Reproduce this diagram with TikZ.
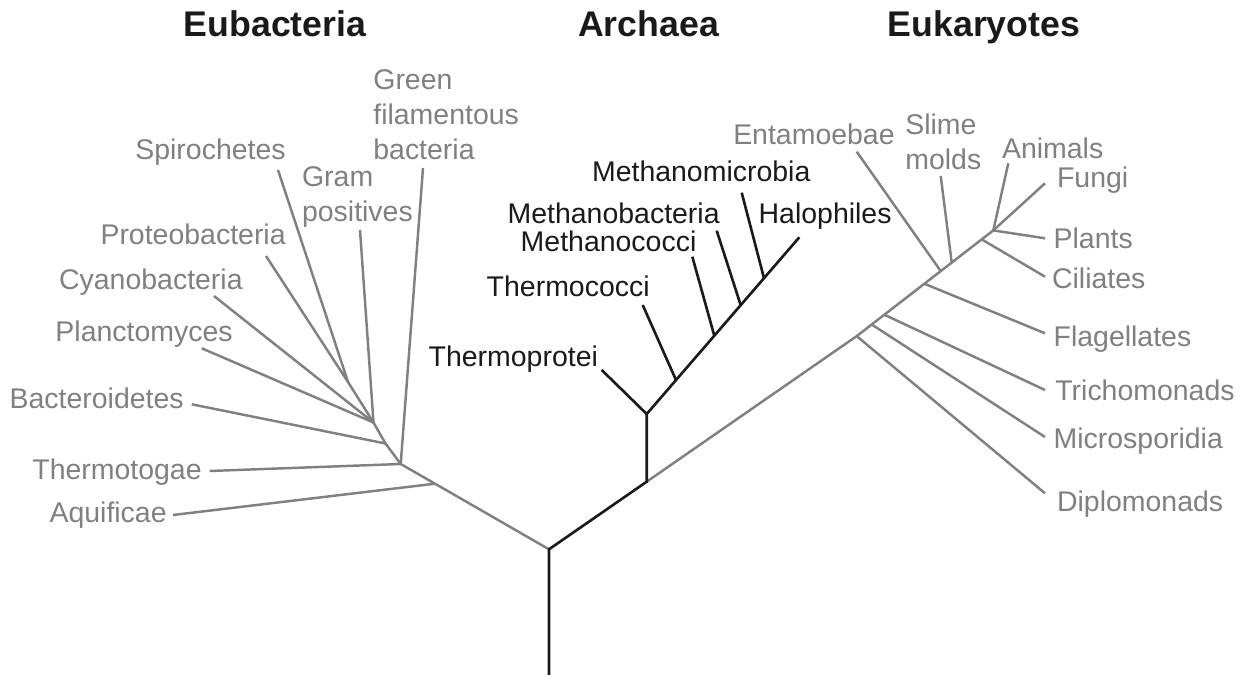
\documentclass[tikz,border=0pt]{standalone}
\usepackage{fontspec}
\setmainfont{Liberation Sans}
\usepackage{xcolor}
\definecolor{treegray}{RGB}{128,128,128}
\definecolor{treeblack}{RGB}{26,26,26}
\tikzstyle{gbr} = [draw=treegray, line width=1.4pt]
\tikzstyle{bbr} = [draw=treeblack, line width=1.5pt]

\begin{document}
\begin{tikzpicture}[x=0.02cm, y=-0.02cm, font=\fontsize{16.2}{19.9}\selectfont]
        \tikzstyle{grp}=[font=\fontsize{20.3}{24}\selectfont\bfseries, text=treeblack, inner sep=0pt, anchor=base]
        \tikzstyle{glab}=[text=treegray, inner sep=0pt]
        \tikzstyle{blab}=[text=treeblack, inner sep=0pt]
        \useasboundingbox (0,0) rectangle (1247,675);

        \node (eub) [grp] at (275,36.7) {Eubacteria};
        \node (arc) [grp] at (648.6,36.7) {Archaea};
        \node (euk) [grp] at (984,36.7) {Eukaryotes};

        \node (gfb) [glab, anchor=base west] at (373,89.3) {\begin{tabular}[t]{@{}l@{}}Green\\filamentous\\bacteria\end{tabular}};
        \node (spi) [glab, anchor=base east] at (286,159.3) {Spirochetes};
        \node (grp) [glab, anchor=base west] at (301.7,186.7) {\begin{tabular}[t]{@{}l@{}}Gram\\positives\end{tabular}};
        \node (pro) [glab, anchor=base east] at (286,245) {Proteobacteria};
        \node (cya) [glab, anchor=base east] at (243,290) {Cyanobacteria};
        \node (pla) [glab, anchor=base east] at (233,341.7) {Planctomyces};
        \node (bac) [glab, anchor=base east] at (184,408) {Bacteroidetes};
        \node (tmt) [glab, anchor=base east] at (202,479) {Thermotogae};
        \node (aqu) [glab, anchor=base east] at (167,522.7) {Aquificae};

        \node (mmi) [blab, anchor=base west] at (591.7,182) {Methanomicrobia};
        \node (mba) [blab, anchor=base east] at (720,224) {Methanobacteria};
        \node (mco) [blab, anchor=base east] at (696.7,251.7) {Methanococci};
        \node (hal) [blab, anchor=base west] at (758.3,224) {Halophiles};
        \node (tco) [blab, anchor=base east] at (650,296.7) {Thermococci};
        \node (tpr) [blab, anchor=base east] at (598.3,366.7) {Thermoprotei};

        \node (ent) [glab, anchor=base east] at (895,145) {Entamoebae};
        \node (sli) [glab, anchor=base west] at (905,135) {\begin{tabular}[t]{@{}l@{}}Slime\\molds\end{tabular}};
        \node (ani) [glab, anchor=base west] at (1001.7,158.3) {Animals};
        \node (fun) [glab, anchor=base west] at (1056.7,188) {Fungi};
        \node (pln) [glab, anchor=base west] at (1053.3,248.3) {Plants};
        \node (cil) [glab, anchor=base west] at (1051.7,288.3) {Ciliates};
        \node (fla) [glab, anchor=base west] at (1053.3,346.7) {Flagellates};
        \node (tri) [glab, anchor=base west] at (1055,400) {Trichomonads};
        \node (mic) [glab, anchor=base west] at (1053.3,448.3) {Microsporidia};
        \node (dip) [glab, anchor=base west] at (1056.7,511.7) {Diplomonads};

        \coordinate (bot) at (549,675);
        \coordinate (r) at (549,549.3);
        \coordinate (ea) at (435,483.7);
        \coordinate (e1) at (400.7,464);
        \coordinate (e2) at (385.5,443.5);
        \coordinate (e3) at (373.5,422.5);
        \coordinate (e4) at (348,382);
        \coordinate (tAq) at (173,515);
        \coordinate (tTh) at (209.6,471);
        \coordinate (tBa) at (191.8,404.3);
        \coordinate (tPl) at (201.8,348.3);
        \coordinate (tCy) at (214,296);
        \coordinate (tPr) at (266,256);
        \coordinate (tSp) at (278,170);
        \coordinate (tGr) at (360,230);
        \coordinate (tGf) at (423,168);

        \coordinate (a0) at (646.7,481.7);
        \coordinate (a1) at (646.7,414);
        \coordinate (aTc) at (676,380);
        \coordinate (aMc) at (714.3,335.7);
        \coordinate (aMb) at (740.7,305.2);
        \coordinate (aMm) at (764,278.2);
        \coordinate (tTp) at (601.7,370);
        \coordinate (tHa) at (799.3,237.3);
        \coordinate (tTc) at (642.7,305);
        \coordinate (tMc) at (692.3,256.7);
        \coordinate (tMb) at (716.7,230.7);
        \coordinate (tMm) at (741.7,192.7);

        \coordinate (kDi) at (856.7,336.1);
        \coordinate (kMi) at (871.7,324.5);
        \coordinate (kTr) at (884.3,314.7);
        \coordinate (kFl) at (925,284);
        \coordinate (kEn) at (940.7,271.1);
        \coordinate (kSl) at (951.7,262.6);
        \coordinate (kCi) at (981.7,239.4);
        \coordinate (kTop) at (993.3,230.4);
        \coordinate (tEn) at (856.7,151.7);
        \coordinate (tSl) at (940.7,176);
        \coordinate (tAn) at (1008.3,163.3);
        \coordinate (tFu) at (1045,183.3);
        \coordinate (tPa) at (1045,238.3);
        \coordinate (tCi) at (1045,276.7);
        \coordinate (tFl) at (1045,333.3);
        \coordinate (tTr) at (1045,390);
        \coordinate (tMi) at (1045,437);
        \coordinate (tDi) at (1045,493.3);

        \draw[gbr] (r) -- (ea) -- (e1) -- (e2) -- (e3) -- (e4);
        \foreach \a/\b in {ea/tAq, e1/tTh, e1/tGf, e2/tBa, e3/tGr, e3/tPl, e3/tCy, e4/tPr, e4/tSp}
            \draw[gbr] (\a) -- (\b);

        \draw[gbr] (a0) -- (kDi) -- (kTop);
        \foreach \a/\b in {kDi/tDi, kMi/tMi, kTr/tTr, kFl/tFl, kEn/tEn, kSl/tSl, kCi/tCi, kTop/tPa, kTop/tFu, kTop/tAn}
            \draw[gbr] (\a) -- (\b);

        \draw[bbr] (bot) -- (r) -- (a0) -- (a1) -- (tHa);
        \draw[bbr] (a1) -- (tTp);
        \foreach \a/\b in {aTc/tTc, aMc/tMc, aMb/tMb, aMm/tMm}
            \draw[bbr] (\a) -- (\b);
    \end{tikzpicture}
\end{document}
